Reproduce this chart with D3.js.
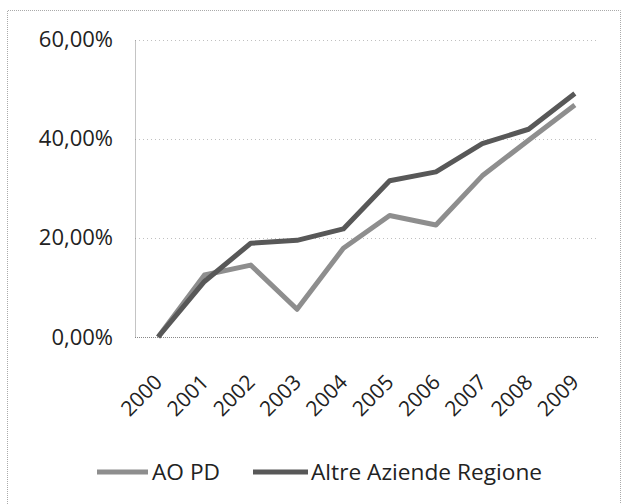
<!DOCTYPE html>
<html>
<head>
<meta charset="utf-8">
<script src="https://cdn.jsdelivr.net/npm/d3@7"></script>
<style>
  body { margin: 0; background: #fff; }
  svg text { font-family: "Open Sans", sans-serif; fill: #222; }
</style>
</head>
<body>
<svg id="chart" width="626" height="504"></svg>
<script>
const years = ['2000', '2001', '2002', '2003', '2004', '2005', '2006', '2007', '2008', '2009'];
const aoPd = [0, 12.5, 14.5, 5.6, 17.9, 24.5, 22.6, 32.5, 39.7, 46.8];
const altre = [0, 11.2, 18.9, 19.5, 21.8, 31.5, 33.3, 39.0, 41.9, 49.1];
const yTicks = [0, 20, 40, 60];
const seriesNames = ['AO PD', 'Altre Aziende Regione'];

const PLOT = { left: 135, right: 598, top: 39.5, bottom: 337 };

const svg = d3.select('#chart');

// outer frame
svg.append('path')
  .attr('d', 'M7.5,504 V10.5 H620.5 V504')
  .attr('fill', 'none')
  .attr('stroke', '#aaa')
  .attr('stroke-width', 1)
  .attr('stroke-dasharray', '1,1');

const xScale = d3.scaleBand()
  .domain(years)
  .range([PLOT.left, PLOT.right]);

const yScale = d3.scaleLinear()
  .domain([0, 60])
  .range([PLOT.bottom, PLOT.top]);

// gridlines
svg.append('g')
  .selectAll('line')
  .data(yTicks.filter(d => d > 0))
  .enter()
  .append('line')
  .attr('x1', PLOT.left)
  .attr('x2', PLOT.right)
  .attr('y1', d => Math.round(yScale(d)) + 0.5)
  .attr('y2', d => Math.round(yScale(d)) + 0.5)
  .attr('stroke', '#c0c0c0')
  .attr('stroke-dasharray', '1,3');

// y axis
const yAxis = d3.axisLeft(yScale)
  .tickValues(yTicks)
  .tickSize(0)
  .tickPadding(22)
  .tickFormat(d => d3.format('.2f')(d).replace('.', ',') + '%');

svg.append('g')
  .attr('transform', `translate(${PLOT.left},0)`)
  .call(yAxis)
  .call(g => g.select('.domain')
    .attr('stroke', '#888')
    .attr('stroke-dasharray', '1,1'))
  .call(g => g.selectAll('text')
    .attr('font-size', 22)
    .attr('fill', '#222'));

// x axis baseline
svg.append('line')
  .attr('x1', PLOT.left)
  .attr('x2', PLOT.right)
  .attr('y1', PLOT.bottom + 0.5)
  .attr('y2', PLOT.bottom + 0.5)
  .attr('stroke', '#888')
  .attr('stroke-dasharray', '1,1');

// year labels
const xAxis = d3.axisBottom(xScale).tickSize(0).tickPadding(0);
svg.append('g')
  .attr('transform', `translate(0,${PLOT.bottom})`)
  .call(xAxis)
  .call(g => g.select('.domain').remove())
  .call(g => g.selectAll('text')
    .attr('font-size', 21)
    .attr('text-anchor', 'end')
    .attr('dy', null)
    .attr('y', 0)
    .attr('transform', 'translate(-7,34) rotate(-45)')
    .attr('dominant-baseline', 'hanging'));

const line = d3.line()
  .x((d, i) => xScale(years[i]) + xScale.bandwidth() / 2)
  .y(d => yScale(d));

const colors = ['#8e8e8e', '#585858'];

[aoPd, altre].forEach((vals, i) => {
  svg.append('path')
    .datum(vals)
    .attr('fill', 'none')
    .attr('stroke', colors[i])
    .attr('stroke-width', 5)
    .attr('stroke-linejoin', 'round')
    .attr('d', line);
});

// legend
const legendY = 472;
const legendItems = [
  { name: seriesNames[0], x1: 97, x2: 148, tx: 152, color: colors[0] },
  { name: seriesNames[1], x1: 253, x2: 308, tx: 311, color: colors[1] }
];
const legend = svg.append('g');
legendItems.forEach(item => {
  legend.append('line')
    .attr('x1', item.x1)
    .attr('x2', item.x2)
    .attr('y1', legendY)
    .attr('y2', legendY)
    .attr('stroke', item.color)
    .attr('stroke-width', 5);
  legend.append('text')
    .attr('x', item.tx)
    .attr('y', legendY)
    .attr('dy', '0.35em')
    .attr('font-size', 22.7)
    .text(item.name);
});
</script>
</body>
</html>
